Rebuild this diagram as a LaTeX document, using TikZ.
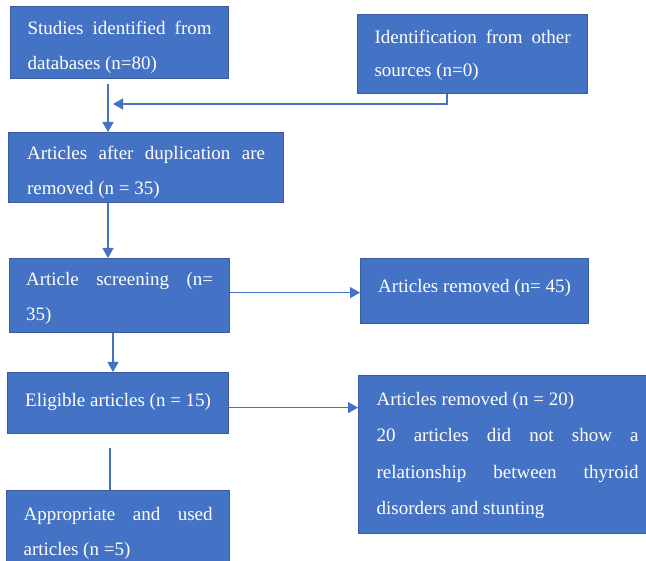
\documentclass[tikz,border=0pt]{standalone}
\usepackage{fontspec}
\setmainfont{Liberation Serif}
\usetikzlibrary{arrows.meta,positioning,calc}
\definecolor{BoxBlue}{HTML}{4472C4}
\definecolor{BoxEdge}{HTML}{3A5C9C}
\hyphenpenalty=10000
\tolerance=10000
\tikzset{
  blk/.style={draw=BoxEdge,fill=BoxBlue,text=white,anchor=north west,
              inner xsep=17pt,inner ysep=0pt,line width=1.2pt,text depth=0pt,
              font=\fontsize{19}{35}\selectfont},
  jblk/.style={blk,align=justify,text height=0pt},
  arr/.style={-{Triangle[length=10pt,width=11pt]},BoxBlue,line width=1.1pt},
  ln/.style={BoxBlue,line width=1.1pt},
}

\begin{document}
\begin{tikzpicture}[x=1pt,y=-1pt]
    \useasboundingbox (0,0) rectangle (646,561);
    \clip (0,0) rectangle (646,561);
    \fill[white] (0,0) rectangle (646,561);

    % Boxes
    \node[jblk, text width=184pt, minimum height=72pt, text depth=16pt] (db) at (10,6) {Studies identified from\linebreak databases (n=80)};
    \node[jblk, text width=196pt, minimum height=79pt, text depth=21pt,
          font=\fontsize{19}{33}\selectfont] (other) at (357,14) {Identification from other\linebreak sources (n=0)};
    \node[jblk, text width=238pt, inner xsep=18.5pt, minimum height=70pt, text depth=16pt] (dup) at (8,132) {Articles after duplication are\linebreak removed (n = 35)};
    \node[jblk, text width=187pt, inner xsep=16.5pt, minimum height=74pt, text depth=20pt] (screen) at (9,258) {Article screening (n=\linebreak 35)};
    \node[blk, minimum width=228pt, minimum height=65pt, text height=3pt] (rem1) at (360,258) {Articles removed (n= 45)};
    \node[blk, minimum width=221pt, minimum height=61pt, text height=7pt] (elig) at (7,372) {Eligible articles (n = 15)};
    \node[jblk, text width=262pt, inner xsep=18pt, minimum height=158pt, text depth=98pt,
          font=\fontsize{19}{36.3}\selectfont] (rem2) at (358,375) {Articles removed (n = 20)\newline
        20 articles did not show a\linebreak relationship between thyroid\linebreak disorders and stunting};
    \node[jblk, text width=189pt, inner xsep=17pt, minimum height=96pt, text depth=36pt] (used) at (6,490) {Appropriate and used\linebreak articles (n =5)};

    % Connectors
    \coordinate (join) at (113,104);
    \draw[arr] ([xshift=98pt,yshift=-5pt]db.south west) -- ([xshift=100pt]dup.north west);
    \draw[arr] ([xshift=90pt]other.south west) |- (join);
    \draw[arr] ([xshift=100pt]dup.south west) -- ([xshift=99pt]screen.north west);
    \draw[arr] ([yshift=3pt]screen.east) -- ([yshift=3pt]screen.east -| rem1.west);
    \draw[arr] ([xshift=104pt]screen.south west) -- ([xshift=106pt]elig.north west);
    \draw[arr] ([yshift=-4.5pt]elig.east) -- ([yshift=-4.5pt]elig.east -| rem2.west);
    \draw[ln] ([xshift=103pt,yshift=-14pt]elig.south west) -- ([xshift=104pt]used.north west);

\end{tikzpicture}
\end{document}
